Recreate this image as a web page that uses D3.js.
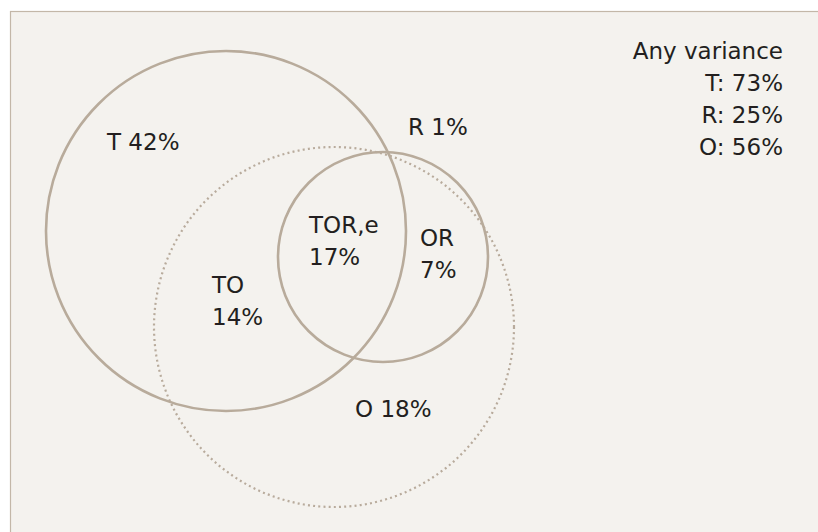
<!DOCTYPE html>
<html><head><meta charset="utf-8">
<script src="https://cdn.jsdelivr.net/npm/d3@7"></script>
<style>
html,body{margin:0;padding:0;background:#fff;}
svg{display:block;}
text{font-family:"DejaVu Sans",sans-serif;fill:#231f20;}
</style></head>
<body><div id="chart"></div>
<script>
// Sets (circle layout in abstract units)
const setNames = ["T", "R", "O"];
const setCx = [22.6, 38.3, 33.4];
const setCy = [23.1, 25.7, 32.7];
const setR = [18.0, 10.5, 18.0];
const setDotted = [false, false, true];

// Region labels
const regionLines = [["T 42%"], ["R 1%"], ["TOR,e", "17%"], ["OR", "7%"], ["TO", "14%"], ["O 18%"]];
const regionX = [10.7, 40.8, 30.9, 42.0, 21.2, 35.5];
const regionY = [15.0, 13.5, 23.3, 24.6, 29.3, 41.7];

// Legend
const legendTitle = "Any variance";
const legendSets = ["T", "R", "O"];
const legendValues = [73, 25, 56];

const W = 818, H = 532;
const svg = d3.select("#chart").append("svg").attr("width", W).attr("height", H);

const x = d3.scaleLinear().domain([0, 100]).range([0, 1000]);
const y = d3.scaleLinear().domain([0, 100]).range([0, 1000]);
const rs = d3.scaleLinear().domain([0, 100]).range([0, 1000]);

svg.append("rect").attr("x", 10.5).attr("y", 11.5).attr("width", W).attr("height", H)
  .attr("fill", "#f4f2ee").attr("stroke", "#c3b7a8").attr("stroke-width", 1.2);

const idx = d3.range(setNames.length);
svg.selectAll("circle.set").data(idx).join("circle")
  .attr("class", "set")
  .attr("cx", i => x(setCx[i])).attr("cy", i => y(setCy[i])).attr("r", i => rs(setR[i]))
  .attr("fill", "none")
  .attr("stroke", i => setDotted[i] ? "#b8ab9c" : "#b8ab9b")
  .attr("stroke-width", i => setDotted[i] ? 2.2 : 2.6)
  .attr("stroke-dasharray", i => setDotted[i] ? "2,3.2" : null);

const fs = 23, lh = 32;
regionLines.forEach((lines, i) => {
  const t = svg.append("text").attr("x", x(regionX[i])).attr("y", y(regionY[i]))
    .attr("font-size", fs);
  lines.forEach((l, j) => t.append("tspan").attr("x", x(regionX[i])).attr("dy", j === 0 ? 0 : lh).text(l));
});

const lg = svg.append("text").attr("x", 783).attr("y", 59).attr("font-size", fs).attr("text-anchor", "end");
lg.append("tspan").attr("x", 783).attr("dy", 0).text(legendTitle);
legendSets.forEach((s, i) => {
  lg.append("tspan").attr("x", 783).attr("dy", lh).text(s + ": " + legendValues[i] + "%");
});
</script></body></html>
